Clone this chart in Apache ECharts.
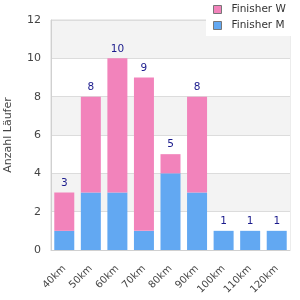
<!DOCTYPE html>
<html lang="de">
<head>
    <meta charset="UTF-8">
    <title>Finisher</title>
    <script src="https://cdn.jsdelivr.net/npm/echarts@6/dist/echarts.min.js"></script>
    <style>
        html, body { margin: 0; padding: 0; background: #fff; }
        #main { width: 300px; height: 300px; }
    </style>
</head>
<body>
    <div id="main"></div>
    <script>
        var distanzen = ['40km', '50km', '60km', '70km', '80km', '90km', '100km', '110km', '120km'];
        var finisherM = [1, 3, 3, 1, 4, 3, 1, 1, 1];
        var finisherW = [2, 5, 7, 8, 1, 5, 0, 0, 0];
        var gesamt = [3, 8, 10, 9, 5, 8, 1, 1, 1];

        var myChart = echarts.init(document.getElementById('main'));

        var option = {
            animation: false,
            textStyle: { fontFamily: 'DejaVu Sans' },
            grid: {
                left: 51, right: 10, top: 20, bottom: 50,
                show: true, borderColor: '#d9d9d9', borderWidth: 1,
                containLabel: false,
                outerBoundsMode: 'none'
            },
            legend: {
                orient: 'vertical',
                left: 206, top: 0,
                padding: [4, 10, 5, 7],
                backgroundColor: '#fff',
                itemWidth: 8, itemHeight: 8, itemGap: 5,
                itemStyle: { borderColor: '#777', borderWidth: 1 },
                textStyle: { fontSize: 10.5, color: '#333', padding: [0, 0, 0, 5] },
                data: [
                    { name: 'Finisher W', icon: 'rect' },
                    { name: 'Finisher M', icon: 'rect' }
                ]
            },
            xAxis: {
                type: 'category',
                data: distanzen,
                axisLine: { lineStyle: { color: '#d0d0d0' } },
                axisTick: { show: false },
                axisLabel: { rotate: 45, color: '#444', fontSize: 10, margin: 17, interval: 0 }
            },
            yAxis: {
                type: 'value',
                min: 0, max: 12, interval: 2,
                name: 'Anzahl Läufer',
                nameLocation: 'middle',
                nameGap: 37,
                nameMoveOverlap: false,
                nameTextStyle: { color: '#444', fontSize: 11 },
                axisLine: { show: true, lineStyle: { color: '#d0d0d0' } },
                axisTick: { show: false },
                axisLabel: { color: '#444', fontSize: 11, margin: 10 },
                splitLine: { lineStyle: { color: '#dcdcdc' } },
                splitArea: { show: true, areaStyle: { color: ['#fff', '#f3f3f3'] } }
            },
            series: [
                {
                    name: 'Finisher M',
                    type: 'bar',
                    stack: 'gesamt',
                    barWidth: 20,
                    itemStyle: { color: '#62a8f2', borderWidth: 0 },
                    data: finisherM
                },
                {
                    name: 'Finisher W',
                    type: 'bar',
                    stack: 'gesamt',
                    barWidth: 20,
                    itemStyle: { color: '#f283bb', borderWidth: 0 },
                    label: {
                        show: true,
                        position: 'top',
                        distance: 4,
                        color: '#1a1a8c',
                        fontSize: 10.5,
                        formatter: function (p) { return gesamt[p.dataIndex]; }
                    },
                    data: finisherW
                }
            ]
        };

        myChart.setOption(option);
    </script>
</body>
</html>
